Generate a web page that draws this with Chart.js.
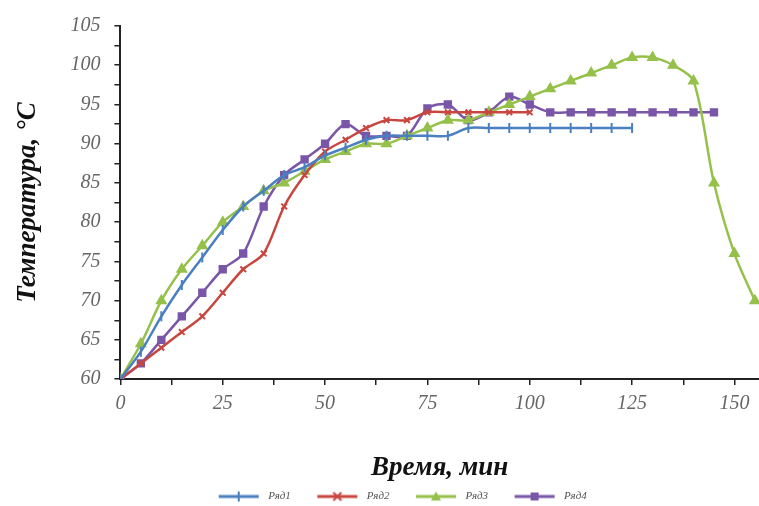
<!DOCTYPE html>
<html lang="ru">
<head>
    <meta charset="UTF-8">
    <title>Температура от времени</title>
    <script src="https://cdn.jsdelivr.net/npm/chart.js"></script>
    <style>
        html, body { margin: 0; padding: 0; background: #fff; }
        .chart-container { width: 759px; height: 506px; position: relative; }
    </style>
</head>
<body>
    <div class="chart-container">
        <canvas id="tempChart" width="759" height="506"></canvas>
    </div>

    <script>
        // time, minutes (one reading every 5 min)
        const times = [0, 5, 10, 15, 20, 25, 30, 35, 40, 45, 50, 55, 60, 65, 70, 75,
                       80, 85, 90, 95, 100, 105, 110, 115, 120, 125, 130, 135, 140, 145, 150, 155];

        // temperature, °C
        const row1 = [60, 63.5, 68, 72, 75.5, 79, 82, 84, 86, 87, 88.5, 89.5, 90.5, 91, 91, 91,
                      91, 92, 92, 92, 92, 92, 92, 92, 92, 92];
        const row2 = [60, 62, 64, 66, 68, 71, 74, 76, 82, 86, 89, 90.5, 92, 93, 93, 94,
                      94, 94, 94, 94, 94];
        const row3 = [60, 64.5, 70, 74, 77, 80, 82, 84, 85, 86.5, 88, 89, 90, 90, 91, 92,
                      93, 93, 94, 95, 96, 97, 98, 99, 100, 101, 101, 100, 98, 85, 76, 70];
        const row4 = [60, 62, 65, 68, 71, 74, 76, 82, 86, 88, 90, 92.5, 91, 91, 91, 94.5,
                      95, 93, 94, 96, 95, 94, 94, 94, 94, 94, 94, 94, 94, 94];

        const seriesNames = ['Ряд1', 'Ряд2', 'Ряд3', 'Ряд4'];
        const seriesColors = ['#4a7fc0', '#c8463f', '#95c14b', '#7a56a8'];
        const seriesMarkers = ['line', 'crossRot', 'triangle', 'rect'];
        const markerRotation = [90, 0, 0, 0];
        const markerRadius = [5, 4, 5, 4.5];

        const xTickLabels = [0, 25, 50, 75, 100, 125, 150];

        const toPoints = vals => vals.map((v, i) => ({ x: times[i], y: v }));

        // small line + marker picture for each legend entry (blank space on the left)
        function legendSwatch(i) {
            const c = document.createElement('canvas');
            c.width = 70; c.height = 12;
            const g = c.getContext('2d');
            g.strokeStyle = seriesColors[i];
            g.fillStyle = seriesColors[i];
            g.lineWidth = 3;
            g.beginPath(); g.moveTo(26, 6); g.lineTo(66, 6); g.stroke();
            g.lineWidth = 2;
            const m = seriesMarkers[i];
            if (m === 'line') {
                g.beginPath(); g.moveTo(46, 1); g.lineTo(46, 11); g.stroke();
            } else if (m === 'crossRot') {
                g.beginPath(); g.moveTo(42, 2); g.lineTo(50, 10); g.moveTo(50, 2); g.lineTo(42, 10); g.stroke();
            } else if (m === 'triangle') {
                g.beginPath(); g.moveTo(46, 1); g.lineTo(51, 10); g.lineTo(41, 10); g.closePath(); g.fill();
            } else {
                g.fillRect(42, 2, 8, 8);
            }
            return c;
        }

        const rows = [row1, row2, row3, row4];
        const datasets = rows.map((vals, i) => ({
            label: seriesNames[i],
            data: toPoints(vals),
            borderColor: seriesColors[i],
            backgroundColor: seriesColors[i],
            borderWidth: 2.5,
            tension: 0.3,
            pointStyle: seriesMarkers[i],
            rotation: markerRotation[i],
            pointRadius: markerRadius[i],
            pointBorderWidth: 2,
            pointBorderColor: seriesColors[i],
            pointBackgroundColor: seriesColors[i]
        }));

        const serif = "'Liberation Serif', 'DejaVu Serif', serif";

        // nudge the legend left and down, as in the source figure
        const legendShift = {
            id: 'legendShift',
            afterLayout(chart) {
                chart.legend.left -= 50;
                chart.legend.right -= 50;
                chart.legend.top += 6;
                chart.legend.bottom += 6;
            }
        };

        const ctx = document.getElementById('tempChart').getContext('2d');
        const tempChart = new Chart(ctx, {
            type: 'line',
            data: { datasets: datasets },
            options: {
                responsive: false,
                animation: false,
                layout: { autoPadding: false, padding: { top: 25, right: 0, left: 0, bottom: 0 } },
                plugins: {
                    tooltip: { enabled: false },
                    legend: {
                        position: 'bottom',
                        fullSize: false,
                        labels: {
                            usePointStyle: true,
                            pointStyleWidth: 70,
                            boxHeight: 10,
                            padding: 0.5,
                            color: '#555',
                            font: { family: serif, size: 11, style: 'italic' },
                            generateLabels: chart => {
                                const items = Chart.defaults.plugins.legend.labels.generateLabels(chart);
                                items.forEach((it, i) => { it.pointStyle = legendSwatch(i); it.rotation = 0; });
                                return items;
                            }
                        }
                    }
                },
                scales: {
                    x: {
                        type: 'linear',
                        min: 0,
                        max: 156,
                        afterBuildTicks: axis => {
                            const ticks = [];
                            for (let v = 0; v <= 150; v += 12.5) ticks.push({ value: v });
                            axis.ticks = ticks;
                        },
                        ticks: {
                            autoSkip: false,
                            maxRotation: 0,
                            padding: 7,
                            color: '#666',
                            font: { family: serif, size: 20, style: 'italic' },
                            callback: v => (xTickLabels.includes(v) ? String(v) : '')
                        },
                        grid: { drawOnChartArea: false, drawTicks: true, tickLength: 6, color: '#222', lineWidth: 1.5 },
                        border: { color: '#222', width: 2 },
                        title: {
                            display: true,
                            text: 'Время, мин',
                            color: '#111',
                            font: { family: serif, size: 27, style: 'italic', weight: 'bold' },
                            padding: { top: 29, bottom: 0 }
                        }
                    },
                    y: {
                        min: 60,
                        max: 105,
                        afterBuildTicks: axis => {
                            const ticks = [];
                            for (let v = 60; v <= 105; v += 2.5) ticks.push({ value: v });
                            axis.ticks = ticks;
                        },
                        ticks: {
                            autoSkip: false,
                            padding: 14,
                            color: '#666',
                            font: { family: serif, size: 20, style: 'italic' },
                            callback: v => (v % 5 === 0 ? String(v) : '')
                        },
                        grid: { drawOnChartArea: false, drawTicks: true, tickLength: 6, color: '#222', lineWidth: 1.5 },
                        border: { color: '#222', width: 2 },
                        title: {
                            display: true,
                            text: 'Температура, °С',
                            color: '#111',
                            font: { family: serif, size: 27, style: 'italic', weight: 'bold' },
                            padding: { top: 12, bottom: 12 }
                        }
                    }
                }
            },
            plugins: [legendShift]
        });
    </script>
</body>
</html>
